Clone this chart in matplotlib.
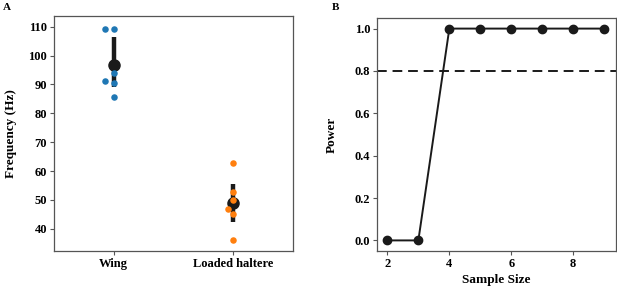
import matplotlib
matplotlib.use("Agg")
import matplotlib.pyplot as plt
import numpy as np

plt.rcParams['font.family'] = ['Liberation Serif', 'DejaVu Serif']
plt.rcParams['font.weight'] = 'bold'

# Panel A data
categories = ["Wing", "Loaded haltere"]
wing_freq = [109.2, 109.2, 93.9, 91.3, 90.4, 85.5]
wing_offsets = [-0.075, 0.0, 0.0, -0.075, 0.0, 0.0]
haltere_freq = [62.8, 52.6, 50.0, 46.8, 45.2, 36.1]
haltere_offsets = [0.0, 0.0, 0.0, -0.04, 0.0, 0.0]
means = [96.6, 48.9]
err_low = [89.0, 42.4]
err_high = [106.3, 55.4]

# Panel B data
sample_size = [2, 3, 4, 5, 6, 7, 8, 9]
power = [0.0, 0.0, 1.0, 1.0, 1.0, 1.0, 1.0, 1.0]
power_threshold = 0.8

W, H = 617, 286
fig = plt.figure(figsize=(W/100, H/100), dpi=100)

axA = fig.add_axes([54/W, 1-251/H, (293-54)/W, (251-16)/H])
axB = fig.add_axes([377/W, 1-251/H, (616-377)/W, (251-18)/H])

colors = ['#1f77b4', '#ff7f0e']
for i, (vals, offs) in enumerate([(wing_freq, wing_offsets), (haltere_freq, haltere_offsets)]):
    axA.vlines(i, err_low[i], err_high[i], color='#1a1a1a', lw=3.2, zorder=2)
    axA.plot(i, means[i], 'o', color='#1a1a1a', ms=8, zorder=3)
    axA.scatter(np.array(offs) + i, vals, s=22, color=colors[i], zorder=4, linewidths=0)

axA.set_xlim(-0.5, 1.5)
axA.set_ylim(32.3, 113.7)
axA.set_xticks([0, 1])
axA.set_xticklabels(categories)
axA.set_yticks([40, 50, 60, 70, 80, 90, 100, 110])
axA.set_ylabel("Frequency (Hz)", fontsize=9.5, fontweight='bold', labelpad=8)

axB.plot(sample_size, power, '-o', color='#1a1a1a', lw=1.4, ms=6, zorder=3, clip_on=False)
axB.axhline(power_threshold, color='#1a1a1a', lw=1.4, ls=(0, (5, 3)))
axB.set_xlim(1.665, 9.38)
axB.set_ylim(-0.05, 1.05)
axB.set_xticks([2, 4, 6, 8])
axB.set_yticks([0.0, 0.2, 0.4, 0.6, 0.8, 1.0])
axB.set_yticklabels(["0.0", "0.2", "0.4", "0.6", "0.8", "1.0"])
axB.set_xlabel("Sample Size", fontsize=9.5, fontweight='bold', labelpad=3)
axB.set_ylabel("Power", fontsize=9.5, fontweight='bold', labelpad=12)

for ax in (axA, axB):
    for s in ax.spines.values():
        s.set_color('#555555')
        s.set_linewidth(0.9)
    ax.tick_params(direction='out', length=3, width=0.8, color='#555555', labelsize=9, pad=2)
    for lab in ax.get_xticklabels() + ax.get_yticklabels():
        lab.set_fontweight('bold')

fig.text(3/W, 1-8/H, "A", fontsize=8, fontweight='bold', va='center', ha='left')
fig.text(332/W, 1-8/H, "B", fontsize=8, fontweight='bold', va='center', ha='left')

fig.savefig("out.png", dpi=100)
